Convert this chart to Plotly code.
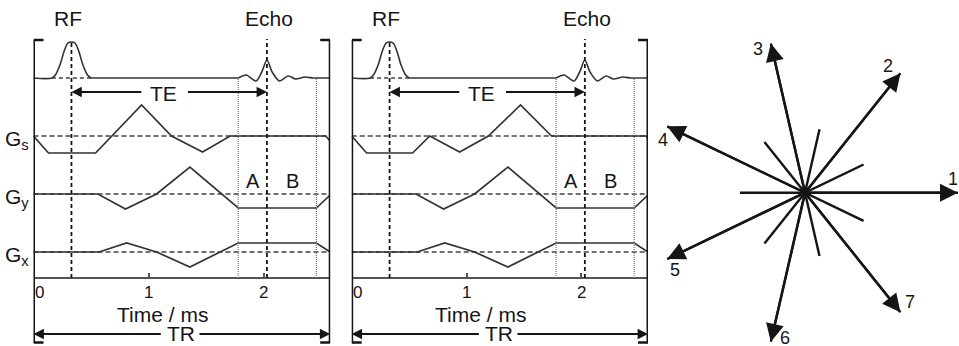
import numpy as np
import plotly.graph_objects as go

# ---------------- data ----------------
TR = 2.58                      # ms, repetition time (frame width)
t_rf = 0.33                    # RF pulse centre
t_echo = 2.03                  # echo centre
t_adc = [1.78, 2.46]           # readout window (A | B)
time_ticks = [0, 1, 2]

# RF pulse (a.u.)
rf_pulse_t = [0.16, 0.19, 0.23, 0.27, 0.30, 0.33, 0.36, 0.39, 0.43, 0.47, 0.50]
rf_pulse_a = [0, 3, 13, 28, 35, 36, 35, 28, 13, 3, 0]
# Echo (a.u.)
echo_t = [1.78, 1.85, 1.935, 1.985, 2.03, 2.075, 2.14, 2.215, 2.28, 2.36, 2.43, 2.46]
echo_a = [0, 3, -3, 6, 18, 6, -3, 2, -1, 1, 0, 0]

# Gradients, left sequence (a.u.)
gs1_t = [0, 0.13, 0.54, 0.94, 1.20, 1.47, 1.71, 2.54, 2.58]
gs1_a = [0, -17, -17, 31, 0, -16, 0, 0, -5]
# Gradients, right sequence (a.u.)
gs2_t = [0, 0.13, 0.53, 0.68, 0.94, 1.19, 1.47, 1.74, 2.565, 2.58]
gs2_a = [0, -17, -17, 0, -16, 0, 31, 0, 0, -3]
# phase / read gradients (same for both)
gy_t = [0, 0.56, 0.80, 1.07, 1.36, 1.78, 2.46, 2.58]
gy_a = [0, 0, -15, 0, 27, -14, -14, -1]
gx_t = [0, 0.57, 0.81, 1.07, 1.36, 1.78, 2.46, 2.58]
gx_a = [0, 0, 9, 0, -15, 9, 9, 0]

# radial k-space spokes
spoke_angle = [0, 51.4, 102.9, 154.3, 205.7, 257.1, 308.6]   # degrees
spoke_label = ["1", "2", "3", "4", "5", "6", "7"]
k_max = 1.0
k_tail = 0.425

# ---------------- layout helpers ----------------
W, H = 959, 346
def py(row):
    return 1 - row / H

FONT = "Arial, Liberation Sans, Helvetica, sans-serif"
INK = "#151515"
WAVE = "#333333"
HALF = 50  # half-height of each channel axis (a.u. == px)

channel_rows = {"y": 78, "y2": 136, "y3": 194, "y4": 252}

fig = go.Figure()

panels = [
    dict(xa="x", dom=(33.5, 330.2), gs_t=gs1_t, gs_a=gs1_a, glabels=True),
    dict(xa="x2", dom=(351.7, 648.0), gs_t=gs2_t, gs_a=gs2_a, glabels=False),
]

shapes = []
annots = []

def text(t, x, y, xref, size, **kw):
    d = dict(text=t, x=x, y=y, xref=xref, yref="paper", showarrow=False,
             xanchor="center", yanchor="middle",
             font=dict(size=size, family=FONT, color=INK))
    d.update(kw)
    annots.append(d)

for p in panels:
    xa = p["xa"]
    # dashed baselines of gradient channels
    for ya in ["y2", "y3", "y4"]:
        fig.add_trace(go.Scatter(x=[0, TR], y=[0, 0], xaxis=xa, yaxis=ya, mode="lines",
                                 line=dict(color="#444", width=1.5, dash="5px,3px"),
                                 hoverinfo="skip", showlegend=False))
    # dashed baseline under RF pulse
    fig.add_trace(go.Scatter(x=[rf_pulse_t[0], rf_pulse_t[-1]], y=[0, 0], xaxis=xa, yaxis="y",
                             mode="lines", line=dict(color="#444", width=1.5, dash="4px,3px"),
                             hoverinfo="skip", showlegend=False))
    # RF line (baseline + pulse + echo)
    fig.add_trace(go.Scatter(x=[0] + rf_pulse_t, y=[0] + rf_pulse_a, xaxis=xa, yaxis="y",
                             mode="lines", line=dict(color=WAVE, width=1.6, shape="spline", smoothing=0.9),
                             hoverinfo="skip", showlegend=False))
    fig.add_trace(go.Scatter(x=[rf_pulse_t[-1], echo_t[0]], y=[0, 0], xaxis=xa, yaxis="y",
                             mode="lines", line=dict(color=WAVE, width=1.6),
                             hoverinfo="skip", showlegend=False))
    fig.add_trace(go.Scatter(x=echo_t + [TR], y=echo_a + [0], xaxis=xa, yaxis="y",
                             mode="lines", line=dict(color=WAVE, width=1.6, shape="spline", smoothing=0.8),
                             hoverinfo="skip", showlegend=False))
    # gradients
    for ya, tt, aa in [("y2", p["gs_t"], p["gs_a"]), ("y3", gy_t, gy_a), ("y4", gx_t, gx_a)]:
        fig.add_trace(go.Scatter(x=tt, y=aa, xaxis=xa, yaxis=ya, mode="lines",
                                 line=dict(color=WAVE, width=1.7),
                                 hoverinfo="skip", showlegend=False))

    # vertical dashed reference lines
    shapes.append(dict(type="line", xref=xa, yref="paper", x0=t_rf, x1=t_rf, y0=py(278), y1=py(43),
                       line=dict(color=INK, width=1.8, dash="4px,3px")))
    shapes.append(dict(type="line", xref=xa, yref="paper", x0=t_echo, x1=t_echo, y0=py(278), y1=py(39),
                       line=dict(color=INK, width=1.8, dash="4px,3px")))
    for ta in t_adc:
        shapes.append(dict(type="line", xref=xa, yref="paper", x0=ta, x1=ta, y0=py(278), y1=py(78),
                           line=dict(color="#777", width=1.2, dash="1px,1px")))
    # brackets
    for xb, s in [(0, 1), (TR, -1)]:
        shapes.append(dict(type="line", xref=xa, yref="paper", x0=xb, x1=xb, y0=py(343), y1=py(40),
                           line=dict(color=INK, width=3)))
        for row in (40, 342.5):
            shapes.append(dict(type="line", xref=xa, yref="paper", xsizemode="pixel", xanchor=xb,
                               x0=0, x1=10 * s, y0=py(row), y1=py(row),
                               line=dict(color=INK, width=2.5)))

    # texts
    text("RF", 0.30, py(18), xa, 21)
    text("Echo", 2.05, py(18), xa, 21)
    text("TE", 1.13, py(93), xa, 21)
    text("A", 1.91, py(181), xa, 20)
    text("B", 2.25, py(181), xa, 20)
    for tv in time_ticks:
        text(str(tv), tv, py(292), xa, 17, xshift=6 if tv == 0 else 0)
    text("Time / ms", 1.12, py(314), xa, 21)
    text("TR", 1.28, py(333), xa, 21)
    # TE / TR arrows
    for tip, tail, row in [(t_rf, 0.95, 92), (t_echo, 1.33, 92), (0, 1.12, 334), (TR, 1.43, 334)]:
        annots.append(dict(text="", x=tip, y=py(row), xref=xa, yref="paper",
                           ax=tail, axref=xa, ay=0, ayref="pixel",
                           showarrow=True, arrowhead=2, arrowsize=1.15, arrowwidth=1.8,
                           arrowcolor=INK, standoff=0, startstandoff=0))
    if p["glabels"]:
        for lab, row in [("s", 140), ("y", 198), ("x", 256)]:
            text("G<sub>%s</sub>" % lab, 31 / W, py(row), "paper", 21, xanchor="right")

# ---------------- radial panel ----------------
cx, cy, scale = 805, 192.7, 153.0
x_hi = (W - cx) / scale
y_lo = -(H - cy) / scale
ang = np.radians(spoke_angle)
sx, sy = [], []
for a in ang:
    sx += [-k_tail * np.cos(a), k_max * np.cos(a), None]
    sy += [-k_tail * np.sin(a), k_max * np.sin(a), None]
fig.add_trace(go.Scatter(x=sx, y=sy, xaxis="x3", yaxis="y5", mode="lines",
                         line=dict(color=INK, width=2.4), hoverinfo="skip", showlegend=False))
lab_d = 14 / scale
for a, lab in zip(ang, spoke_label):
    tx, ty = k_max * np.cos(a), k_max * np.sin(a)
    annots.append(dict(text="", x=tx, y=ty, xref="x3", yref="y5", ax=0, ay=0, axref="x3", ayref="y5",
                       showarrow=True, arrowhead=2, arrowsize=1.5, arrowwidth=2.4, arrowcolor=INK,
                       standoff=0))
    b = a + np.radians(100)
    lx = min(tx + lab_d * np.cos(b), x_hi - 6 / scale)
    ly = max(ty + lab_d * np.sin(b), y_lo + 8 / scale)
    annots.append(dict(text=lab, x=lx, y=ly, xref="x3", yref="y5",
                       xanchor="center", yanchor="middle",
                       showarrow=False, font=dict(size=18, family=FONT, color=INK)))

# ---------------- axes ----------------
layout_axes = {}
for key, p in zip(["xaxis", "xaxis2"], panels):
    layout_axes[key] = dict(domain=[p["dom"][0] / W, p["dom"][1] / W], range=[0, TR],
                            anchor="free", position=py(278), showline=True, linecolor="#555",
                            linewidth=1.5, ticks="inside", tickvals=[1, 2], ticklen=4, tickwidth=1.5,
                            tickcolor="#555", showticklabels=False, showgrid=False, zeroline=False,
                            fixedrange=True)
for i, (ya, row) in enumerate(channel_rows.items()):
    key = "yaxis" if ya == "y" else "yaxis" + ya[1:]
    layout_axes[key] = dict(domain=[py(row + HALF), py(row - HALF)], range=[-HALF, HALF],
                            visible=False, anchor="x", fixedrange=True)
layout_axes["xaxis3"] = dict(domain=[660 / W, 1], range=[(660 - cx) / scale, x_hi],
                             visible=False, anchor="y5", fixedrange=True)
layout_axes["yaxis5"] = dict(domain=[0, 1], range=[y_lo, cy / scale],
                             visible=False, anchor="x3", fixedrange=True)

fig.update_layout(width=W, height=H, margin=dict(l=0, r=0, t=0, b=0),
                  paper_bgcolor="white", plot_bgcolor="rgba(0,0,0,0)",
                  showlegend=False, shapes=shapes, annotations=annots, **layout_axes)

fig.write_html("out.html", config={"displayModeBar": False})
